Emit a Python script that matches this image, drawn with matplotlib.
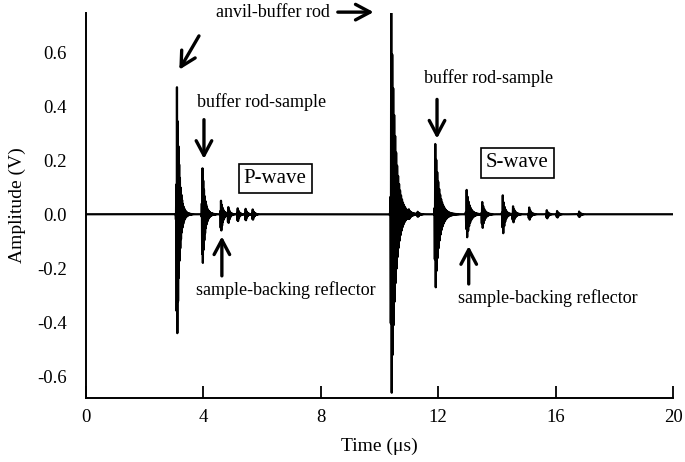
#!/usr/bin/env python3
"""Ultrasonic echo trace: P-wave and S-wave reflections."""

import matplotlib
matplotlib.use('Agg')
import matplotlib.pyplot as plt
from matplotlib.patches import FancyArrowPatch
import numpy as np

plt.rcParams.update({
    'font.family': ['Liberation Serif', 'DejaVu Serif'],
    'font.size': 13,
    'axes.unicode_minus': False,
})

# Echo arrivals (time in us, +peak, -peak in V, decay in us, carrier MHz)
echo_time = [3.10, 3.97, 4.60, 4.85, 5.17, 5.44, 5.68,
             10.40, 11.00, 11.30, 11.90, 12.97, 13.50, 14.20, 14.55, 15.10, 15.70, 16.05, 16.80]
echo_pos = [0.47, 0.17, 0.05, 0.025, 0.022, 0.02, 0.018,
            0.75, 0.008, 0.008, 0.26, 0.09, 0.045, 0.07, 0.03, 0.025, 0.015, 0.012, 0.01]
echo_neg = [0.44, 0.18, 0.06, 0.03, 0.025, 0.022, 0.02,
            0.66, 0.008, 0.008, 0.27, 0.085, 0.05, 0.07, 0.03, 0.02, 0.015, 0.012, 0.01]
echo_decay = [0.08, 0.08, 0.07, 0.05, 0.05, 0.05, 0.05,
              0.14, 0.05, 0.05, 0.13, 0.10, 0.08, 0.07, 0.07, 0.06, 0.05, 0.05, 0.05]
echo_freq = [40, 40, 40, 40, 40, 40, 40,
             30, 30, 30, 30, 30, 30, 30, 30, 30, 30, 30, 30]

X_TICKS = [0, 4, 8, 12, 16, 20]
Y_TICKS = [-0.6, -0.4, -0.2, 0.0, 0.2, 0.4, 0.6]


def build_trace():
    t = np.arange(0, 20, 0.0005)
    y = np.zeros_like(t)
    for t0, ap, an, tau, f in zip(echo_time, echo_pos, echo_neg, echo_decay, echo_freq):
        dt = t - t0
        env = np.where(dt < 0, np.exp(-(dt / 0.02) ** 2), np.exp(-np.clip(dt, 0, None) / tau))
        carrier = np.cos(2 * np.pi * f * dt)
        half = 0.5 / f
        neg_scale = an / np.exp(-half / tau)
        y += np.where(carrier > 0, ap * carrier, neg_scale * carrier) * env
    return t, y


def arrow(ax, tail, head):
    ax.add_patch(FancyArrowPatch(tail, head, arrowstyle='->,head_length=0.75,head_width=0.4',
                                 lw=2.4, color='black', mutation_scale=14,
                                 shrinkA=0, shrinkB=0, clip_on=False))


def main():
    fig = plt.figure(figsize=(6.85, 4.62), dpi=100)
    ax = fig.add_axes([0.1255, 0.1385, 0.857, 0.8335])

    t, y = build_trace()
    ax.plot(t, y, color='black', lw=1.6)

    ax.set_xlim(0, 20)
    ax.set_ylim(-0.68, 0.745)
    ax.set_xticks(X_TICKS)
    ax.set_xticklabels([str(v) for v in X_TICKS], fontsize=13.5)
    ax.set_yticks(Y_TICKS)
    ax.set_yticklabels([f'{v:.1f}' for v in Y_TICKS], fontsize=13.5)
    ax.tick_params(axis='x', direction='in', length=9, width=1.3, pad=8)
    ax.tick_params(axis='y', length=0, pad=14)
    for s in ['top', 'right']:
        ax.spines[s].set_visible(False)
    for s in ['left', 'bottom']:
        ax.spines[s].set_linewidth(1.4)

    ax.set_xlabel('Time (μs)', fontsize=14, labelpad=8)
    ax.set_ylabel('Amplitude (V)', fontsize=14, labelpad=8)

    # annotations
    ax.text(8.3, 0.748, 'anvil-buffer rod', ha='right', va='center', fontsize=13, clip_on=False)
    arrow(ax, (8.58, 0.748), (9.8, 0.748))
    arrow(ax, (3.85, 0.66), (3.18, 0.535))

    ax.text(5.98, 0.415, 'buffer rod-sample', ha='center', va='center', fontsize=13)
    arrow(ax, (4.02, 0.35), (4.02, 0.205))
    ax.text(6.45, 0.133, 'P-wave', ha='center', va='center', fontsize=15,
            bbox=dict(boxstyle='square,pad=0.25', facecolor='white', edgecolor='black', lw=1.2))
    arrow(ax, (4.63, -0.228), (4.63, -0.082))
    ax.text(6.8, -0.28, 'sample-backing reflector', ha='center', va='center', fontsize=13)

    ax.text(13.7, 0.503, 'buffer rod-sample', ha='center', va='center', fontsize=13)
    arrow(ax, (11.96, 0.425), (11.96, 0.28))
    ax.text(14.7, 0.19, 'S-wave', ha='center', va='center', fontsize=15,
            bbox=dict(boxstyle='square,pad=0.25', facecolor='white', edgecolor='black', lw=1.2))
    arrow(ax, (13.04, -0.258), (13.04, -0.118))
    ax.text(15.75, -0.31, 'sample-backing reflector', ha='center', va='center', fontsize=13)

    fig.savefig('out.png', dpi=100)
    plt.close()


if __name__ == '__main__':
    main()
